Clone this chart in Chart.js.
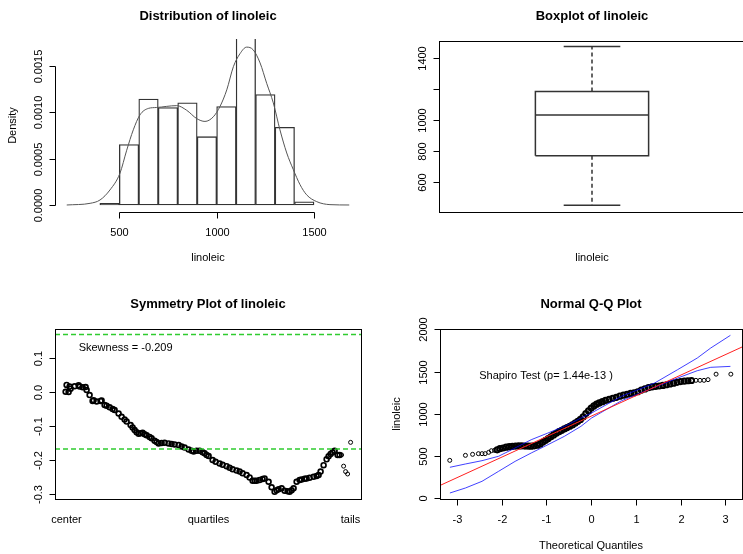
<!DOCTYPE html>
<html>
<head>
<meta charset="utf-8">
<title>linoleic</title>
<script src="https://cdn.jsdelivr.net/npm/chart.js@4.4.1/dist/chart.umd.min.js"></script>
<style>
  html, body { margin: 0; padding: 0; background: #fff; overflow: hidden; width: 743px; height: 554px; }
  canvas { position: absolute; }
</style>
</head>
<body>
<canvas id="hist" width="372" height="277" style="left:0;top:0"></canvas>
<canvas id="box" width="376" height="277" style="left:372px;top:0"></canvas>
<canvas id="sym" width="372" height="277" style="left:0;top:277px"></canvas>
<canvas id="qq" width="376" height="277" style="left:372px;top:277px"></canvas>
<script>
const FONT = '"Liberation Sans", Arial, Helvetica, sans-serif'

// histogram (density scale), bins of 100
const histBreaks = [400, 500, 600, 700, 800, 900, 1000, 1100, 1200, 1300, 1400, 1500]
const histDensity = [0.0000175, 0.00065, 0.00114, 0.00105, 0.0011, 0.000736, 0.00106, 0.00219, 0.00119, 0.000837, 0.000035]
// kernel density curve
const densX = [230, 350, 401, 452, 503, 538, 572, 606, 649, 692, 795, 846, 898, 940, 983, 1017, 1052, 1086, 1120, 1154, 1188, 1223, 1257, 1291, 1325, 1360, 1394, 1428, 1462, 1514, 1582, 1681]
const densY = [0, 0.000018, 0.000054, 0.000162, 0.00034, 0.00059, 0.00081, 0.00097, 0.00104, 0.00105, 0.00107, 0.00102, 0.00093, 0.0009, 0.00095, 0.00106, 0.00124, 0.00149, 0.00163, 0.0017, 0.00167, 0.00153, 0.00131, 0.0011, 0.00081, 0.00056, 0.00038, 0.00022, 0.00011, 0.000036, 0.000004, 0]
const histXTicks = [500, 1000, 1500]
const histXLabels = ['500', '1000', '1500']
const histYTicks = [0, 0.0005, 0.001, 0.0015]
const histYLabels = ['0.0000', '0.0005', '0.0010', '0.0015']

// boxplot: min, q1, median, q3, max
const boxStats = [453, 770, 1032, 1182, 1471]
const boxYTicks = [600, 800, 1000, 1200, 1400]
const boxYLabels = ['600', '800', '1000', '', '1400']

// symmetry plot
const symIndex = [1,2,4,5,6,10,14,15,18,21,22,25,28,29,32,36,37,40,42,45,48,50,54,57,60,62,66,68,70,72,74,76,78,80,82,85,87,90,92,94,97,100,104,107,110,114,117,120,124,127,129,132,135,138,140,142,144,148,151,155,158,162,165,168,172,175,178,182,185,188,190,192,195,198,200,204,207,210,212,214,217,220,223,225,227,229,232,235,237,240,242,245,249,252,254,256,259,262,264,266,268,270,273,275,277,279,281,283,286]
const symValue = [0.000,0.020,-0.001,0.015,0.009,0.016,0.019,0.015,0.013,0.014,0.005,-0.010,-0.027,-0.025,-0.029,-0.027,-0.026,-0.039,-0.041,-0.046,-0.051,-0.054,-0.064,-0.074,-0.082,-0.088,-0.098,-0.105,-0.113,-0.119,-0.124,-0.122,-0.121,-0.125,-0.128,-0.133,-0.137,-0.144,-0.148,-0.152,-0.151,-0.150,-0.152,-0.154,-0.155,-0.157,-0.161,-0.164,-0.170,-0.174,-0.176,-0.174,-0.174,-0.178,-0.181,-0.186,-0.189,-0.201,-0.206,-0.211,-0.215,-0.219,-0.224,-0.228,-0.232,-0.235,-0.240,-0.245,-0.252,-0.262,-0.262,-0.262,-0.260,-0.257,-0.255,-0.265,-0.281,-0.294,-0.290,-0.287,-0.284,-0.291,-0.293,-0.294,-0.290,-0.284,-0.265,-0.260,-0.258,-0.256,-0.255,-0.253,-0.250,-0.248,-0.245,-0.235,-0.216,-0.199,-0.190,-0.183,-0.178,-0.174,-0.186,-0.186,-0.186,-0.219,-0.235,-0.242,-0.149]
const symLimits = [0.1685, -0.1685]
const symYTicks = [0.1, 0, -0.1, -0.2, -0.3]
const symYLabels = ['0.1', '0.0', '-0.1', '-0.2', '-0.3']
const symXAt = [1, 143, 285]
const symXLabels = ['center', 'quartiles', 'tails']

// normal Q-Q plot
const qqTheo = [-3.16,-2.81,-2.65,-2.52,-2.44,-2.37,-2.29,-2.23,-2.16,-2.10,-2.04,-1.97,-1.90,-1.83,-1.76,-1.69,-1.62,-1.55,-1.48,-1.41,-1.34,-1.27,-1.20,-1.14,-1.08,-1.02,-0.96,-0.90,-0.84,-0.78,-0.72,-0.66,-0.60,-0.54,-0.48,-0.42,-0.36,-0.30,-0.24,-0.18,-0.12,-0.06,0.00,0.06,0.12,0.18,0.25,0.32,0.40,0.48,0.56,0.64,0.72,0.80,0.88,0.96,1.04,1.12,1.20,1.28,1.36,1.44,1.52,1.60,1.68,1.76,1.84,1.92,2.00,2.08,2.16,2.24,2.34,2.43,2.52,2.61,2.79,3.12]
const qqSample = [451,510,522,530,530,530,546,565,569,575,589,597,607,613,617,620,622,621,620,618,619,623,630,645,668,688,708,730,752,770,790,806,822,838,854,870,890,912,935,965,1005,1035,1070,1095,1115,1130,1145,1160,1172,1185,1196,1210,1222,1232,1243,1250,1262,1282,1296,1310,1320,1326,1330,1337,1345,1354,1363,1373,1382,1388,1392,1395,1397,1397,1397,1405,1470,1470]
const bandX = [-3.157, -2.81, -2.44, -2.07, -1.70, -1.34, -0.967, -0.60, -0.23, 0.007, 0.677, 1.416, 1.93, 2.37, 2.67, 3.11]
const bandUpper = [369, 408, 447, 499, 597, 695, 774, 853, 951, 1011, 1208, 1365, 1523, 1661, 1779, 1929]
const bandLower = [65, 124, 203, 321, 439, 538, 636, 735, 853, 951, 1156, 1314, 1424, 1511, 1551, 1562]
const qqLine = [973.5, 242.6] // intercept, slope
const qqXTicks = [-3, -2, -1, 0, 1, 2, 3]
const qqXLabels = ['-3', '-2', '-1', '0', '1', '2', '3']
const qqYTicks = [0, 500, 1000, 1500, 2000]
const qqYLabels = ['0', '500', '1000', '1500', '2000']

function pts(xs, ys) {
  return xs.map((x, i) => ({x: x, y: ys[i]}))
}

// draws R style axes, box and text on top of a chart
function rFrame(cfg) {
  return {
    id: 'rFrame',
    afterDraw(chart) {
      const ctx = chart.ctx, a = chart.chartArea
      const xs = chart.scales.x, ys = chart.scales.y
      const snap = v => Math.round(v) + 0.5
      ctx.save()
      ctx.strokeStyle = '#000'
      ctx.fillStyle = '#000'
      ctx.lineWidth = 1
      if (cfg.box) {
        ctx.strokeRect(snap(a.left), snap(a.top), Math.round(a.right - a.left), Math.round(a.bottom - a.top))
      }
      ctx.font = '11px ' + FONT
      if (cfg.xTicks) {
        const y0 = snap(a.bottom)
        const px = cfg.xTicks.map(v => snap(xs.getPixelForValue(v)))
        if (cfg.xLine !== false) {
          ctx.beginPath()
          ctx.moveTo(px[0], y0); ctx.lineTo(px[px.length - 1], y0)
          px.forEach(p => { ctx.moveTo(p, y0); ctx.lineTo(p, y0 + 6) })
          ctx.stroke()
        }
        ctx.textAlign = 'center'
        ctx.textBaseline = 'middle'
        cfg.xLabels.forEach((t, i) => ctx.fillText(t, px[i], a.bottom + 21))
      }
      if (cfg.yTicks) {
        const x0 = snap(a.left)
        const py = cfg.yTicks.map(v => snap(ys.getPixelForValue(v)))
        ctx.beginPath()
        ctx.moveTo(x0, py[0]); ctx.lineTo(x0, py[py.length - 1])
        py.forEach(p => { ctx.moveTo(x0, p); ctx.lineTo(x0 - 6, p) })
        ctx.stroke()
        ctx.textAlign = 'center'
        ctx.textBaseline = 'middle'
        cfg.yLabels.forEach((t, i) => {
          if (!t) return
          ctx.save()
          ctx.translate(a.left - 16.5, py[i])
          ctx.rotate(-Math.PI / 2)
          ctx.fillText(t, 0, 0)
          ctx.restore()
        })
      }
      ctx.textAlign = 'center'
      ctx.textBaseline = 'middle'
      const cx = (a.left + a.right) / 2
      if (cfg.xTitle) ctx.fillText(cfg.xTitle, cx, cfg.xTitleY)
      if (cfg.yTitle) {
        ctx.save()
        ctx.translate(cfg.yTitleX, (a.top + a.bottom) / 2)
        ctx.rotate(-Math.PI / 2)
        ctx.fillText(cfg.yTitle, 0, 0)
        ctx.restore()
      }
      ;(cfg.notes || []).forEach(n => {
        ctx.fillText(n.text, xs.getPixelForValue(n.x), ys.getPixelForValue(n.y))
      })
      ctx.font = 'bold 13px ' + FONT
      ctx.fillText(cfg.title, cx, cfg.titleY)
      ctx.restore()
    }
  }
}

function baseOptions(x, y, pad) {
  return {
    responsive: false,
    animation: false,
    events: [],
    layout: {padding: pad},
    plugins: {legend: {display: false}, tooltip: {enabled: false}},
    scales: {
      x: Object.assign({type: 'linear', display: false, offset: false, grid: {offset: false}}, x),
      y: Object.assign({type: 'linear', display: false}, y)
    }
  }
}

// 1. histogram + density
const bars = histDensity.map((d, i) => ({x: (histBreaks[i] + histBreaks[i + 1]) / 2, y: d}))
new Chart(document.getElementById('hist'), {
  type: 'bar',
  data: {
    datasets: [
      {type: 'line', data: pts(densX, densY), borderColor: '#555', borderWidth: 1, pointRadius: 0, cubicInterpolationMode: 'monotone'},
      {type: 'bar', data: bars, backgroundColor: 'rgba(255,255,255,0)', borderColor: '#333', borderWidth: 0.65,
        borderSkipped: false, barPercentage: 1, categoryPercentage: 1, clip: 0}
    ]
  },
  options: baseOptions(
    {min: 169.7, max: 1741.4, ticks: {stepSize: 100, includeBounds: false}},
    {min: -0.0000754, max: 0.0017875},
    {left: 55, top: 39, right: 11, bottom: 65}),
  plugins: [rFrame({
    title: 'Distribution of linoleic', titleY: 16,
    xTitle: 'linoleic', xTitleY: 258, yTitle: 'Density', yTitleX: 13,
    xTicks: histXTicks, xLabels: histXLabels, yTicks: histYTicks, yLabels: histYLabels
  })]
})

// 2. boxplot
const bw = 0.185, cw = 0.0925
const [bMin, bQ1, bMed, bQ3, bMax] = boxStats
const boxLine = {showLine: true, pointRadius: 0, borderColor: '#333', borderWidth: 1.5, borderJoinStyle: 'miter'}
new Chart(document.getElementById('box'), {
  type: 'scatter',
  data: {
    datasets: [
      Object.assign({data: [{x: 1 - bw, y: bQ1}, {x: 1 + bw, y: bQ1}, {x: 1 + bw, y: bQ3}, {x: 1 - bw, y: bQ3}, {x: 1 - bw, y: bQ1}]}, boxLine),
      Object.assign({data: [{x: 1 - bw, y: bMed}, {x: 1 + bw, y: bMed}]}, boxLine),
      Object.assign({data: [{x: 1, y: bQ3}, {x: 1, y: bMax}], borderDash: [4, 3]}, boxLine),
      Object.assign({data: [{x: 1, y: bQ1}, {x: 1, y: bMin}], borderDash: [4, 3]}, boxLine),
      Object.assign({data: [{x: 1 - cw, y: bMax}, {x: 1 + cw, y: bMax}]}, boxLine),
      Object.assign({data: [{x: 1 - cw, y: bMin}, {x: 1 + cw, y: bMin}]}, boxLine)
    ]
  },
  options: baseOptions({min: 0.5, max: 1.5}, {min: 409, max: 1507}, {left: 67, top: 41, right: 3, bottom: 65}),
  plugins: [rFrame({
    title: 'Boxplot of linoleic', titleY: 16, box: true,
    xTitle: 'linoleic', xTitleY: 258,
    yTicks: boxYTicks, yLabels: boxYLabels
  })]
})

// 3. symmetry plot
const symMin = -9.6, symMax = 296.4
new Chart(document.getElementById('sym'), {
  type: 'scatter',
  data: {
    datasets: symLimits.map(v => ({
      data: [{x: symMin, y: v}, {x: symMax, y: v}], showLine: true, pointRadius: 0,
      borderColor: '#2fcc2f', borderWidth: 1.5, borderDash: [5, 3]
    })).concat([{
      data: pts(symIndex, symValue),
      pointRadius: c => (c.raw && c.raw.x < 276 ? 2.4 : 2),
      pointBorderWidth: c => (c.raw && c.raw.x < 276 ? 1.7 : 1),
      pointBackgroundColor: 'rgba(0,0,0,0)', pointBorderColor: '#000'
    }])
  },
  options: baseOptions({min: symMin, max: symMax}, {min: -0.3156, max: 0.1844}, {left: 55, top: 52, right: 11, bottom: 55}),
  plugins: [rFrame({
    title: 'Symmetry Plot of linoleic', titleY: 27, box: true,
    xTicks: symXAt, xLabels: symXLabels, xLine: false,
    yTicks: symYTicks, yLabels: symYLabels,
    notes: [{text: 'Skewness = -0.209', x: 61, y: 0.129}]
  })]
})

// 4. normal Q-Q plot
const qqMin = -3.378, qqMax = 3.369
const band = {showLine: true, pointRadius: 0, borderColor: 'rgba(0,0,255,0.75)', borderWidth: 1}
const inCore = c => c.raw && c.raw.x > -2.12 && c.raw.x < 2.3
new Chart(document.getElementById('qq'), {
  type: 'scatter',
  data: {
    datasets: [
      {data: [{x: qqMin, y: qqLine[0] + qqLine[1] * qqMin}, {x: qqMax, y: qqLine[0] + qqLine[1] * qqMax}],
        showLine: true, pointRadius: 0, borderColor: '#ff2020', borderWidth: 1},
      Object.assign({data: pts(bandX, bandUpper)}, band),
      Object.assign({data: pts(bandX, bandLower)}, band),
      {data: pts(qqTheo, qqSample),
        pointRadius: c => (inCore(c) ? 2.6 : 2),
        pointBorderWidth: c => (inCore(c) ? 2 : 1),
        pointBackgroundColor: 'rgba(0,0,0,0)', pointBorderColor: '#000'}
    ]
  },
  options: baseOptions({min: qqMin, max: qqMax}, {min: -6, max: 2004}, {left: 68, top: 52, right: 3, bottom: 55}),
  plugins: [rFrame({
    title: 'Normal Q-Q Plot', titleY: 27, box: true,
    xTitle: 'Theoretical Quantiles', xTitleY: 268.5, yTitle: 'linoleic', yTitleX: 25,
    xTicks: qqXTicks, xLabels: qqXLabels, yTicks: qqYTicks, yLabels: qqYLabels,
    notes: [{text: 'Shapiro Test (p= 1.44e-13 )', x: -1.01, y: 1444}]
  })]
})
</script>
</body>
</html>
